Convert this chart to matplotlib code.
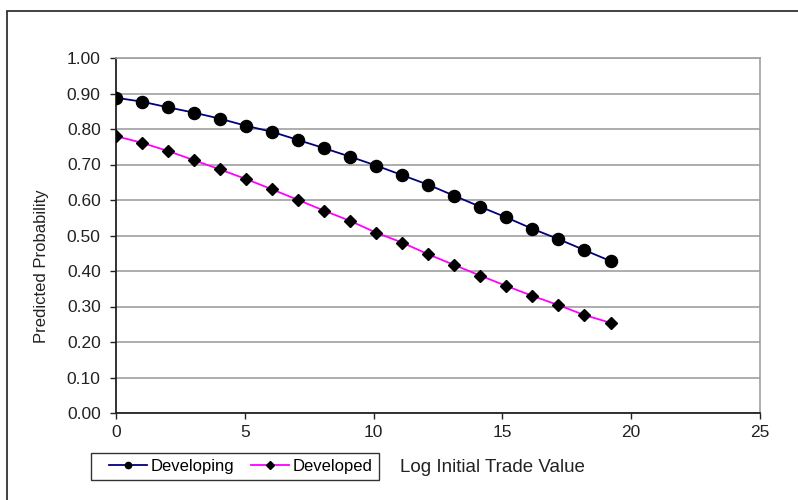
import matplotlib.pyplot as plt
from matplotlib.patches import Rectangle

plt.rcParams['font.family'] = ['Liberation Sans', 'DejaVu Sans']

# data
x_vals = [0, 1.01, 2.02, 3.03, 4.04, 5.05, 6.06, 7.07, 8.08, 9.09,
          10.1, 11.11, 12.12, 13.13, 14.14, 15.15, 16.16, 17.17, 18.18, 19.2]
developing = [0.888, 0.877, 0.861, 0.846, 0.829, 0.809, 0.792, 0.769, 0.746, 0.722,
              0.697, 0.670, 0.643, 0.612, 0.581, 0.551, 0.519, 0.490, 0.459, 0.428]
developed = [0.780, 0.761, 0.738, 0.712, 0.686, 0.659, 0.630, 0.600, 0.570, 0.541,
             0.508, 0.480, 0.447, 0.417, 0.387, 0.358, 0.330, 0.304, 0.276, 0.254]
y_ticks = [0.0, 0.1, 0.2, 0.3, 0.4, 0.5, 0.6, 0.7, 0.8, 0.9, 1.0]
x_ticks = [0, 5, 10, 15, 20, 25]

W, H = 798, 500
fig = plt.figure(figsize=(7.98, 5.0), dpi=100)
ax = fig.add_axes([116 / W, 1 - 413 / H, (760 - 116) / W, (413 - 58) / H])

# outer chart frame (cut off at right and bottom)
fig.patches.append(Rectangle((7 / W, -0.1), 1.1, 1 - 11 / H + 0.1,
                             transform=fig.transFigure, fill=False,
                             edgecolor='#333333', linewidth=1.3))
# legend box
fig.patches.append(Rectangle((91 / W, 1 - 480 / H), (379 - 91) / W, 27 / H,
                             transform=fig.transFigure, fill=False,
                             edgecolor='#333333', linewidth=1.0))

ax.plot(x_vals, developing, color='#000080', linewidth=1.3, marker='o',
        markersize=8.7, markerfacecolor='black', markeredgecolor='black',
        label='Developing', zorder=3)
ax.plot(x_vals, developed, color='#ff00ff', linewidth=1.3, marker='D',
        markersize=6.5, markerfacecolor='black', markeredgecolor='black',
        label='Developed', zorder=3)

ax.set_xlim(0, 25)
ax.set_ylim(0, 1.0)
ax.set_xticks(x_ticks)
ax.set_yticks(y_ticks)
ax.set_yticklabels([f'{v:.2f}' for v in y_ticks])
ax.yaxis.grid(True, color='#a0a0a0', linewidth=1.2)
ax.set_axisbelow(True)

for s in ['top', 'right']:
    ax.spines[s].set_color('#a0a0a0')
    ax.spines[s].set_linewidth(1.2)
for s in ['left', 'bottom']:
    ax.spines[s].set_color('#222222')
    ax.spines[s].set_linewidth(1.3)

ax.tick_params(axis='both', direction='out', length=4.5, width=1, colors='#222222',
               labelsize=12.5, labelcolor='#222222')
ax.tick_params(axis='x', pad=4)
ax.tick_params(axis='y', pad=6.5)

fig.text(42 / W, 1 - 266 / H, 'Predicted Probability', fontsize=12,
         rotation=90, ha='center', va='center', color='#222222')
fig.text(400 / W, 1 - 467 / H, 'Log Initial Trade Value', fontsize=13.5,
         va='center', ha='left', color='#222222')

leg = ax.legend(loc='center left', bbox_to_anchor=(109 / W, 1 - 466.5 / H),
                bbox_transform=fig.transFigure, ncol=2, fontsize=12,
                frameon=False, handlelength=2.3, handletextpad=0.2,
                columnspacing=1.0, borderpad=0, borderaxespad=0)
for h in leg.legend_handles:
    h.set_markersize(4.5)

fig.savefig('out.png', dpi=100)
